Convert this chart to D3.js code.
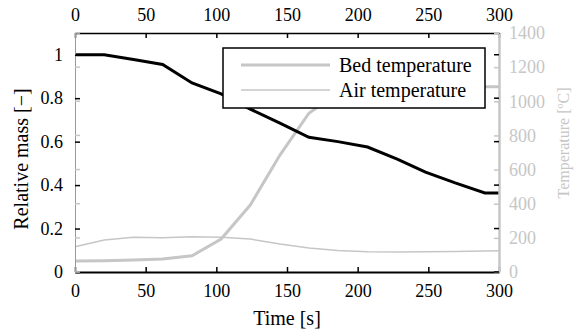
<!DOCTYPE html>
<html>
<head>
<meta charset="utf-8">
<script src="https://cdn.jsdelivr.net/npm/d3@7"></script>
<style>
  body { margin: 0; background: #fff; }
  svg { display: block; }
</style>
</head>
<body>
<div id="chart"></div>
<script>
// data
const time = [0, 20.7, 41.4, 62, 82.8, 103.4, 124, 145, 165.5, 186, 207, 228, 248, 269, 290, 300];
const relMass = [1, 1, 0.978, 0.955, 0.87, 0.82, 0.75, 0.685, 0.62, 0.6, 0.575, 0.52, 0.46, 0.41, 0.364, 0.364];
const bedTemp = [64, 66, 70, 76, 95, 193, 392, 685, 930, 1050, 1078, 1084, 1085, 1085, 1085, 1085];
const airTemp = [148, 187, 203, 201, 206, 203, 193, 164, 140, 126, 119, 117, 118, 120, 123, 124];

const xTicks = [0, 50, 100, 150, 200, 250, 300];
const yLeftTicks = [0, 0.2, 0.4, 0.6, 0.8, 1];
const yRightTicks = [0, 200, 400, 600, 800, 1000, 1200, 1400];
const legendLabels = ['Bed temperature', 'Air temperature'];

const W = 574, H = 329;
const margin = { top: 33, right: 75, bottom: 57, left: 75 };
const grey = '#c6c6c6';

const svg = d3.select('#chart').append('svg')
  .attr('width', W).attr('height', H);

const x = d3.scaleLinear().domain([0, 300]).range([margin.left, W - margin.right]);
const yL = d3.scaleLinear().domain([0, 1.1]).range([H - margin.bottom, margin.top]);
const yR = d3.scaleLinear().domain([0, 1400]).range([H - margin.bottom, margin.top]);

const x0 = x.range()[0], x1 = x.range()[1];
const yb = yL.range()[0], yt = yL.range()[1];
const tk = 5;

// lines
const line = (ys, s) => d3.line().x((d, i) => x(time[i])).y(d => s(d))(ys);

svg.append('path').attr('d', line(airTemp, yR))
  .attr('fill', 'none').attr('stroke', grey).attr('stroke-width', 1.5);
svg.append('path').attr('d', line(bedTemp, yR))
  .attr('fill', 'none').attr('stroke', grey).attr('stroke-width', 3);
svg.append('path').attr('d', line(relMass, yL))
  .attr('fill', 'none').attr('stroke', '#000').attr('stroke-width', 3);

// axes
const gB = svg.append('g').attr('transform', `translate(0,${yb})`)
  .call(d3.axisBottom(x).tickValues(xTicks).tickSizeInner(-tk).tickSizeOuter(0).tickPadding(12));
const gT = svg.append('g').attr('transform', `translate(0,${yt})`)
  .call(d3.axisTop(x).tickValues(xTicks).tickSizeInner(-tk).tickSizeOuter(0).tickPadding(12));
[gB, gT].forEach(g => {
  g.select('.domain').attr('stroke', '#000').attr('stroke-width', 2);
  g.selectAll('.tick line').attr('stroke', '#000').attr('stroke-width', 1.5);
  g.selectAll('.tick text').attr('font-size', 18).attr('fill', '#000');
});
gT.select('.domain').attr('stroke-width', 1.5);

// left axis (black ticks) + grey right-axis ticks mirrored
const gL = svg.append('g').attr('transform', `translate(${x0},0)`)
  .call(d3.axisLeft(yL).tickValues(yLeftTicks).tickFormat(d3.format('~g')).tickSizeInner(-tk).tickSizeOuter(0).tickPadding(12));
gL.select('.domain').attr('stroke', '#999').attr('stroke-width', 1);
gL.selectAll('.tick line').attr('stroke', '#000').attr('stroke-width', 1.5);
gL.selectAll('.tick text').attr('font-size', 18).attr('fill', '#000');
svg.append('g').selectAll('line').data(yRightTicks).join('line')
  .attr('x1', x0).attr('x2', x0 + tk).attr('y1', d => yR(d)).attr('y2', d => yR(d))
  .attr('stroke', grey).attr('stroke-width', 1.5);

// right axis (grey) + black left-axis ticks mirrored
const gR = svg.append('g').attr('transform', `translate(${x1},0)`)
  .call(d3.axisRight(yR).tickValues(yRightTicks).tickFormat(d3.format('d')).tickSizeInner(-tk).tickSizeOuter(0).tickPadding(10));
gR.select('.domain').attr('stroke', grey).attr('stroke-width', 2.5);
gR.selectAll('.tick line').attr('stroke', grey).attr('stroke-width', 1.5);
gR.selectAll('.tick text').attr('font-size', 18).attr('fill', grey);
svg.append('g').selectAll('line').data(yLeftTicks).join('line')
  .attr('x1', x1 - tk).attr('x2', x1).attr('y1', d => yL(d)).attr('y2', d => yL(d))
  .attr('stroke', '#000').attr('stroke-width', 1.5);

// axis labels
svg.append('text').attr('x', (x0 + x1) / 2).attr('y', 325)
  .attr('text-anchor', 'middle').attr('font-size', 20).text('Time [s]');
svg.append('text').attr('transform', `translate(28,159) rotate(-90)`)
  .attr('text-anchor', 'middle').attr('font-size', 20).text('Relative mass [−]');
const rl = svg.append('text').attr('transform', `translate(569,143) rotate(-90)`)
  .attr('text-anchor', 'middle').attr('font-size', 16).attr('fill', grey);
rl.append('tspan').text('Temperature [');
rl.append('tspan').attr('font-size', 10).attr('dy', -6).text('o');
rl.append('tspan').attr('dy', 6).text('C]');

// legend
const lg = svg.append('g').attr('transform', 'translate(223,48)');
lg.append('rect').attr('width', 262).attr('height', 60)
  .attr('fill', '#fff').attr('stroke', '#000').attr('stroke-width', 1.5);
const items = lg.selectAll('g.item').data(legendLabels).join('g')
  .attr('transform', (d, i) => `translate(0,${17 + i * 25})`);
items.append('line').attr('x1', 18).attr('x2', 107)
  .attr('stroke', grey).attr('stroke-width', (d, i) => i === 0 ? 3 : 1.5);
items.append('text').attr('x', 116).attr('y', 7).attr('font-size', 20).text(d => d);

// one font for every text, set inline
svg.selectAll('text').style('font-family', '"Liberation Serif", "Times New Roman", serif');
</script>
</body>
</html>
